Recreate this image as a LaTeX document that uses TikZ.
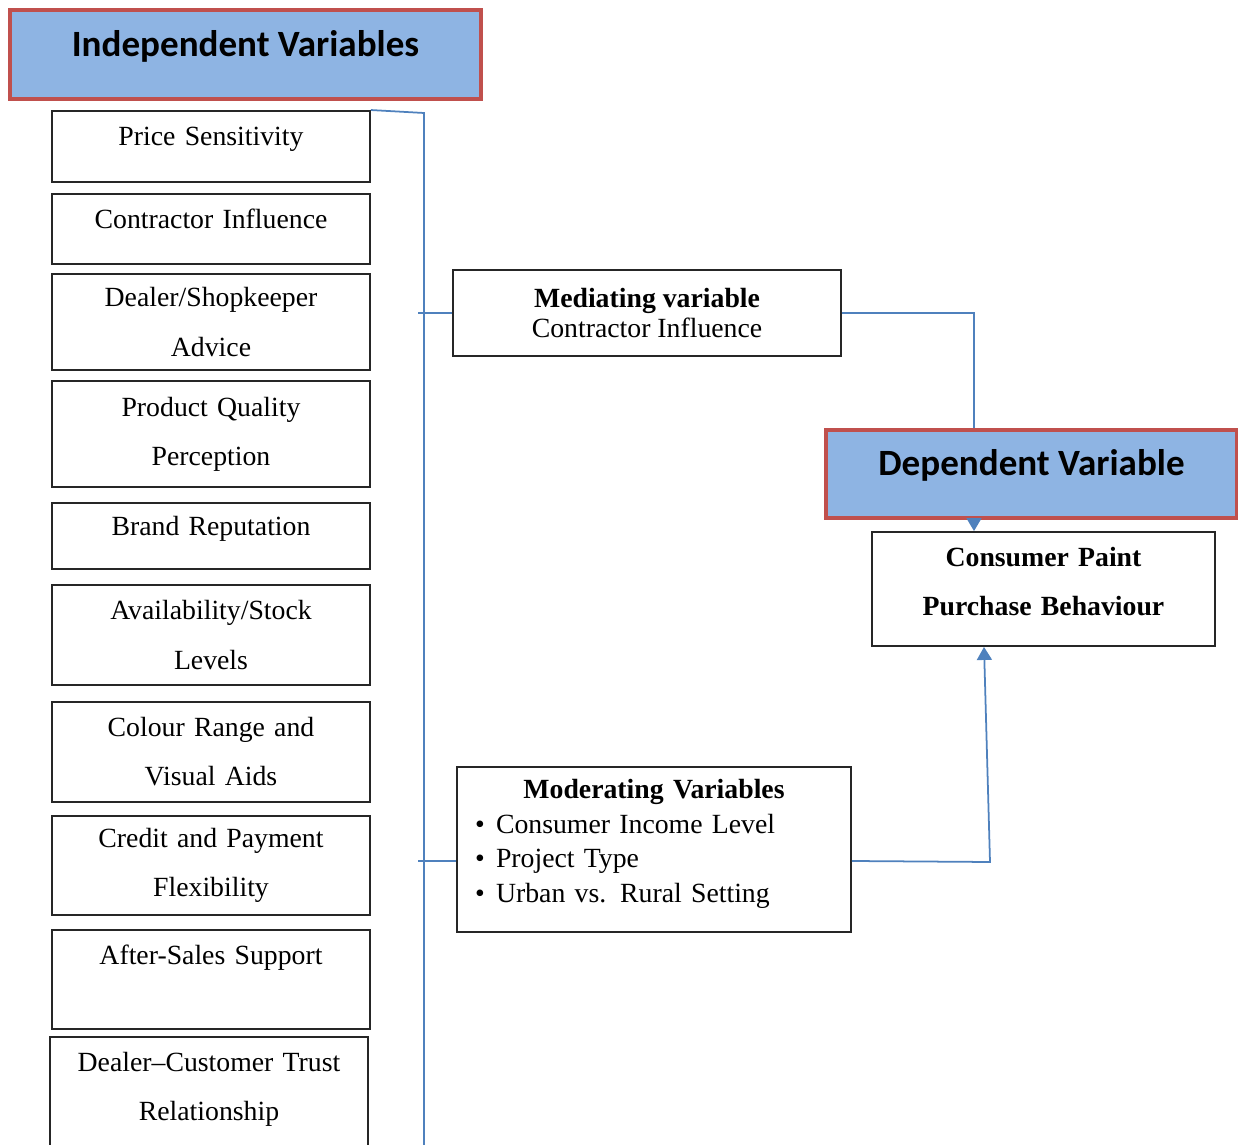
\documentclass[tikz,border=0pt]{standalone}
\usepackage{fontspec}
\setmainfont{Liberation Serif}
\newfontfamily\headfont{Carlito}
\usepackage{tikz}
\usetikzlibrary{positioning}
\usetikzlibrary{arrows.meta}
\definecolor{hdrfill}{RGB}{142,180,227}
\definecolor{hdrline}{RGB}{192,80,77}
\definecolor{link}{RGB}{79,129,189}
\newcommand{\moditem}[1]{\makebox[0.42cm][l]{\textbullet}#1}

\begin{document}
\begin{tikzpicture}[
    x=0.02cm, y=-0.02cm,
    hdr/.style={
        draw=hdrline,
        fill=hdrfill,
        line width=1.8pt,
        inner sep=0pt,
        align=center,
        text depth=0.45cm,
        font=\headfont\bfseries\fontsize{21.1}{25}\selectfont,
    },
    varbox/.style={
        draw=black!85,
        line width=1.1pt,
        inner sep=0pt,
        minimum width=6.36cm,
        text width=6.2cm,
        align=center,
        font=\fontsize{15.8}{27.9}\selectfont,
    },
    oneline/.style={text depth=0.4cm},
    link/.style={draw=link, line width=1pt},
    tip/.style={-{Triangle[width=0.3cm,length=0.26cm]}},
]
    \useasboundingbox (0,0) rectangle (1238,1145);

    \node[hdr, minimum width=9.42cm, minimum height=1.78cm] (indep) at (245.5,54.5) {Independent Variables};

    \node[varbox, oneline, minimum height=1.42cm] (price) at (211,146.5) {Price Sensitivity};
    \node[varbox, oneline, minimum height=1.40cm] (contr) at (211,229) {Contractor Influence};
    \node[varbox, minimum height=1.92cm] (dealer) at (211,322) {Dealer/Shopkeeper\\ Advice};
    \node[varbox, minimum height=2.12cm] (quality) at (211,434) {Product Quality\\ Perception};
    \node[varbox, oneline, minimum height=1.32cm] (brand) at (211,536) {Brand Reputation};
    \node[varbox, minimum height=2.00cm] (stock) at (211,635) {Availability/Stock\\ Levels};
    \node[varbox, minimum height=2.00cm] (colour) at (211,752) {Colour Range and\\ Visual Aids};
    \node[varbox, minimum height=1.98cm] (credit) at (211,865.5) {Credit and Payment\\ Flexibility};
    \node[varbox, minimum height=1.98cm] (after) at (211,979.5) {After-Sales Support\\ \mbox{}};
    \node[varbox, minimum height=2.96cm] (trust) at (209,1111) {Dealer--Customer Trust\\ Relationship\\ \mbox{}};

    \node[draw=black!85, line width=1.1pt, inner sep=0pt, minimum width=7.76cm, minimum height=1.72cm,
        align=center, font=\fontsize{15.8}{17.6}\selectfont] (med) at (647,313)
        {\textbf{Mediating variable}\\ Contractor Influence};

    \node[draw=black!85, line width=1.1pt, inner xsep=0.36cm, inner ysep=0pt, minimum width=7.88cm,
        minimum height=3.3cm, text width=7.16cm, align=left, text depth=2.41cm,
        font=\fontsize{15.8}{19.6}\selectfont] (mod) at (654,849.5)
        {\makebox[\linewidth]{\textbf{Moderating Variables}}\\
         \moditem{Consumer Income Level}\\
         \moditem{Project Type}\\
         \moditem{Urban vs. Rural Setting}};

    \node[hdr, minimum width=8.22cm, minimum height=1.76cm] (dep) at (1031.5,474) {Dependent Variable};

    \node[varbox, minimum width=6.86cm, minimum height=2.28cm, text depth=1.3cm] (cons) at (1043.5,589)
        {\textbf{Consumer Paint}\\ \textbf{Purchase Behaviour}};

    \coordinate (bus top) at (424,113);
    \coordinate (bus bot) at (424,1160);
    \coordinate (mod turn) at (990,862);

    \draw[link] (price.north east) -- (bus top) -- (bus bot);
    \draw[link] ([xshift=-0.12cm]med.west -| bus top) -- (med.west);
    \draw[link] ([xshift=-0.12cm,yshift=-0.23cm]mod.west -| bus top) -- ([yshift=-0.23cm]mod.west);
    \draw[link] (med.east) -| ([xshift=-1.15cm]dep.north);
    \draw[link, tip] ([xshift=-1.15cm]dep.south) -- ([xshift=-1.15cm]dep.south |- cons.north);
    \draw[link, tip] ([yshift=-0.23cm]mod.east) -- (mod turn) -- ([xshift=-1.19cm]cons.south);
\end{tikzpicture}
\end{document}
